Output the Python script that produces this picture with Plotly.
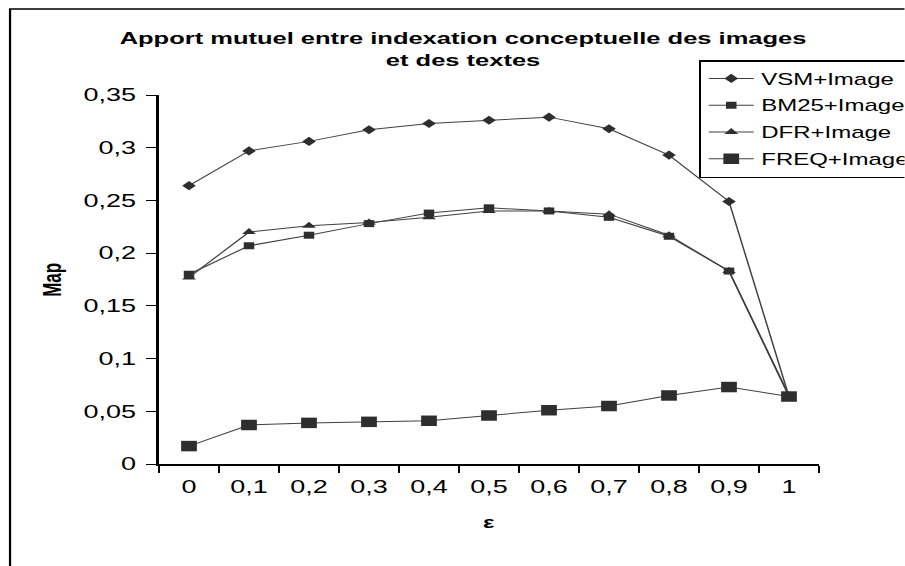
import plotly.graph_objects as go

# Weighting factor epsilon (category axis labels, French decimal comma)
EPSILON_LABELS = ["0", "0,1", "0,2", "0,3", "0,4", "0,5", "0,6", "0,7", "0,8", "0,9", "1"]

# Mean average precision per combination
VSM_IMAGE = [0.264, 0.297, 0.306, 0.317, 0.323, 0.326, 0.329, 0.318, 0.293, 0.249, 0.064]
BM25_IMAGE = [0.180, 0.207, 0.217, 0.228, 0.238, 0.243, 0.240, 0.234, 0.216, 0.183, 0.064]
DFR_IMAGE = [0.177, 0.220, 0.226, 0.229, 0.234, 0.240, 0.240, 0.237, 0.217, 0.183, 0.065]
FREQ_IMAGE = [0.017, 0.037, 0.039, 0.040, 0.041, 0.046, 0.051, 0.055, 0.065, 0.073, 0.064]

SERIES = [
    ("VSM+Image", VSM_IMAGE, "diamond", 7),
    ("BM25+Image", BM25_IMAGE, "square", 7),
    ("DFR+Image", DFR_IMAGE, "triangle-up", 8),
    ("FREQ+Image", FREQ_IMAGE, "square", 10.5),
]

FONT = "Liberation Sans, Arial, sans-serif"
INK = "#2e2e2e"
STRETCH = 1.5  # horizontal stretch applied to the rendered chart
W, H = 603, 566

fig = go.Figure()
for i, (name, values, symbol, size) in enumerate(SERIES):
    fig.add_trace(go.Scatter(
        x=EPSILON_LABELS, y=values, name=name, mode="lines+markers",
        legendgroup=f"g{i}",
        line=dict(color="#404040", width=1),
        marker=dict(symbol=symbol, size=size, color=INK, line=dict(width=0)),
    ))

L, R, T, B = 106, 57, 95, 102
pw, ph = W - L - R, H - T - B


def px_x(x):
    return (x - L) / pw


def px_y(y):
    return (H - B - y) / ph


fig.update_layout(
    width=W, height=H,
    margin=dict(l=L, r=R, t=T, b=B, autoexpand=False),
    paper_bgcolor="white", plot_bgcolor="white",
    separators=", ",
    font=dict(family=FONT, color="black"),
    title=dict(
        text="<b>Apport mutuel entre indexation conceptuelle des images<br>et des textes</b>",
        font=dict(family=FONT, size=17, color="black"),
        x=308.7 / W, xref="container", xanchor="center",
        y=1 - 44 / H, yref="container", yanchor="top",
    ),
    xaxis=dict(
        type="category", range=[-0.5, 10.5], tickson="boundaries",
        ticks="outside", ticklen=7, tickwidth=1.2, tickcolor="black",
        showline=True, linecolor="black", linewidth=1.5,
        showgrid=False, zeroline=False,
        tickfont=dict(family=FONT, size=18, color="black"),
        ticklabelstandoff=6,
    ),
    yaxis=dict(
        range=[0, 0.35], tick0=0, dtick=0.05, tickformat=".2~f",
        ticks="outside", ticklen=7, tickwidth=1.2, tickcolor="black",
        showline=True, linecolor="black", linewidth=1.5,
        showgrid=False, zeroline=False,
        tickfont=dict(family=FONT, size=18, color="black"),
        ticklabelstandoff=3,
    ),
    legend=dict(
        x=px_x(466), y=px_y(60), xanchor="left", yanchor="top",
        bgcolor="white", bordercolor="black", borderwidth=1.5,
        font=dict(family=FONT, size=16, color="black"),
        tracegroupgap=3,
    ),
    showlegend=True,
    annotations=[
        dict(text="<b>Map</b>", textangle=-90, showarrow=False,
             xref="paper", yref="paper", x=px_x(35.3), y=0.5,
             xanchor="center", yanchor="middle",
             font=dict(family=FONT, size=17, color="black")),
        dict(text="<b>ε</b>", showarrow=False,
             xref="paper", yref="paper", x=0.5, y=px_y(522),
             xanchor="center", yanchor="middle",
             font=dict(family=FONT, size=16, color="black")),
    ],
    shapes=[
        # chart frame
        dict(type="rect", xref="paper", yref="paper",
             x0=px_x(6.7), y0=px_y(H + 20), x1=px_x(W + 20), y1=px_y(9),
             line=dict(color="black", width=1.5), fillcolor="rgba(0,0,0,0)",
             layer="below"),
    ],
)

stretch_js = (
    "var gd = document.getElementById('{plot_id}');"
    "gd.style.transformOrigin = '0 0';"
    f"gd.style.transform = 'scaleX({STRETCH})';"
)

fig.write_html("out.html", post_script=stretch_js)
